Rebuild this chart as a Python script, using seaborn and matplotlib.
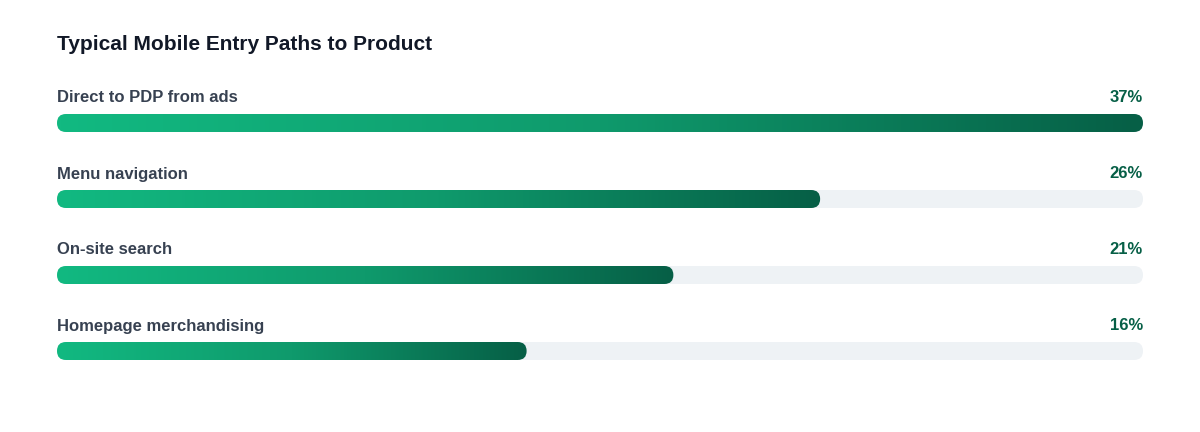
import numpy as np
import matplotlib.pyplot as plt
import seaborn as sns
from matplotlib.patches import FancyBboxPatch
from matplotlib.colors import LinearSegmentedColormap

sns.set_theme(style="white")
plt.rcParams['font.family'] = ['Liberation Sans', 'DejaVu Sans']

title = "Typical Mobile Entry Paths to Product"
paths = ["Direct to PDP from ads", "Menu navigation", "On-site search", "Homepage merchandising"]
shares = [37, 26, 21, 16]
max_share = 37

W, H = 1200, 432
left_px, right_px = 57, 1143
fig = plt.figure(figsize=(W / 100, H / 100), dpi=100)
ax = fig.add_axes([left_px / W, 0, (right_px - left_px) / W, 1])
ax.set_xlim(0, max_share)
ax.set_ylim(H, 0)
ax.axis("off")

px_per_unit = (right_px - left_px) / max_share
bar_h = 18
r = (bar_h / 2) / px_per_unit
cmap = LinearSegmentedColormap.from_list("g", ["#12b981", "#0f9a6c", "#065f46"])
grad = np.linspace(0, 1, 256).reshape(1, -1)

fig.text(57 / W, 1 - 44 / H, title, fontsize=15, fontweight="bold", color="#111827", va="center")

for i, (name, v) in enumerate(zip(paths, shares)):
    yc = 123 + 76 * i
    track = FancyBboxPatch((0, yc - bar_h / 2), max_share, bar_h,
                           boxstyle=f"round,pad=0,rounding_size={r}",
                           mutation_aspect=px_per_unit, fc="#eef2f5", ec="none")
    ax.add_patch(track)
    clip = FancyBboxPatch((0, yc - bar_h / 2), v, bar_h,
                          boxstyle=f"round,pad=0,rounding_size={r}",
                          mutation_aspect=px_per_unit, fc="none", ec="none")
    ax.add_patch(clip)
    im = ax.imshow(grad, cmap=cmap, aspect="auto",
                   extent=[0, v, yc + bar_h / 2, yc - bar_h / 2], zorder=3)
    im.set_clip_path(clip)
    ax.text(0, yc - 25, name, fontsize=12, fontweight="bold", color="#374151", va="center")
    ax.text(max_share, yc - 25, f"{v}%", fontsize=12, fontweight="bold", color="#065f46",
            va="center", ha="right")

ax.set_xlim(0, max_share)
ax.set_ylim(H, 0)
fig.savefig("out.png", dpi=100, facecolor="white")
